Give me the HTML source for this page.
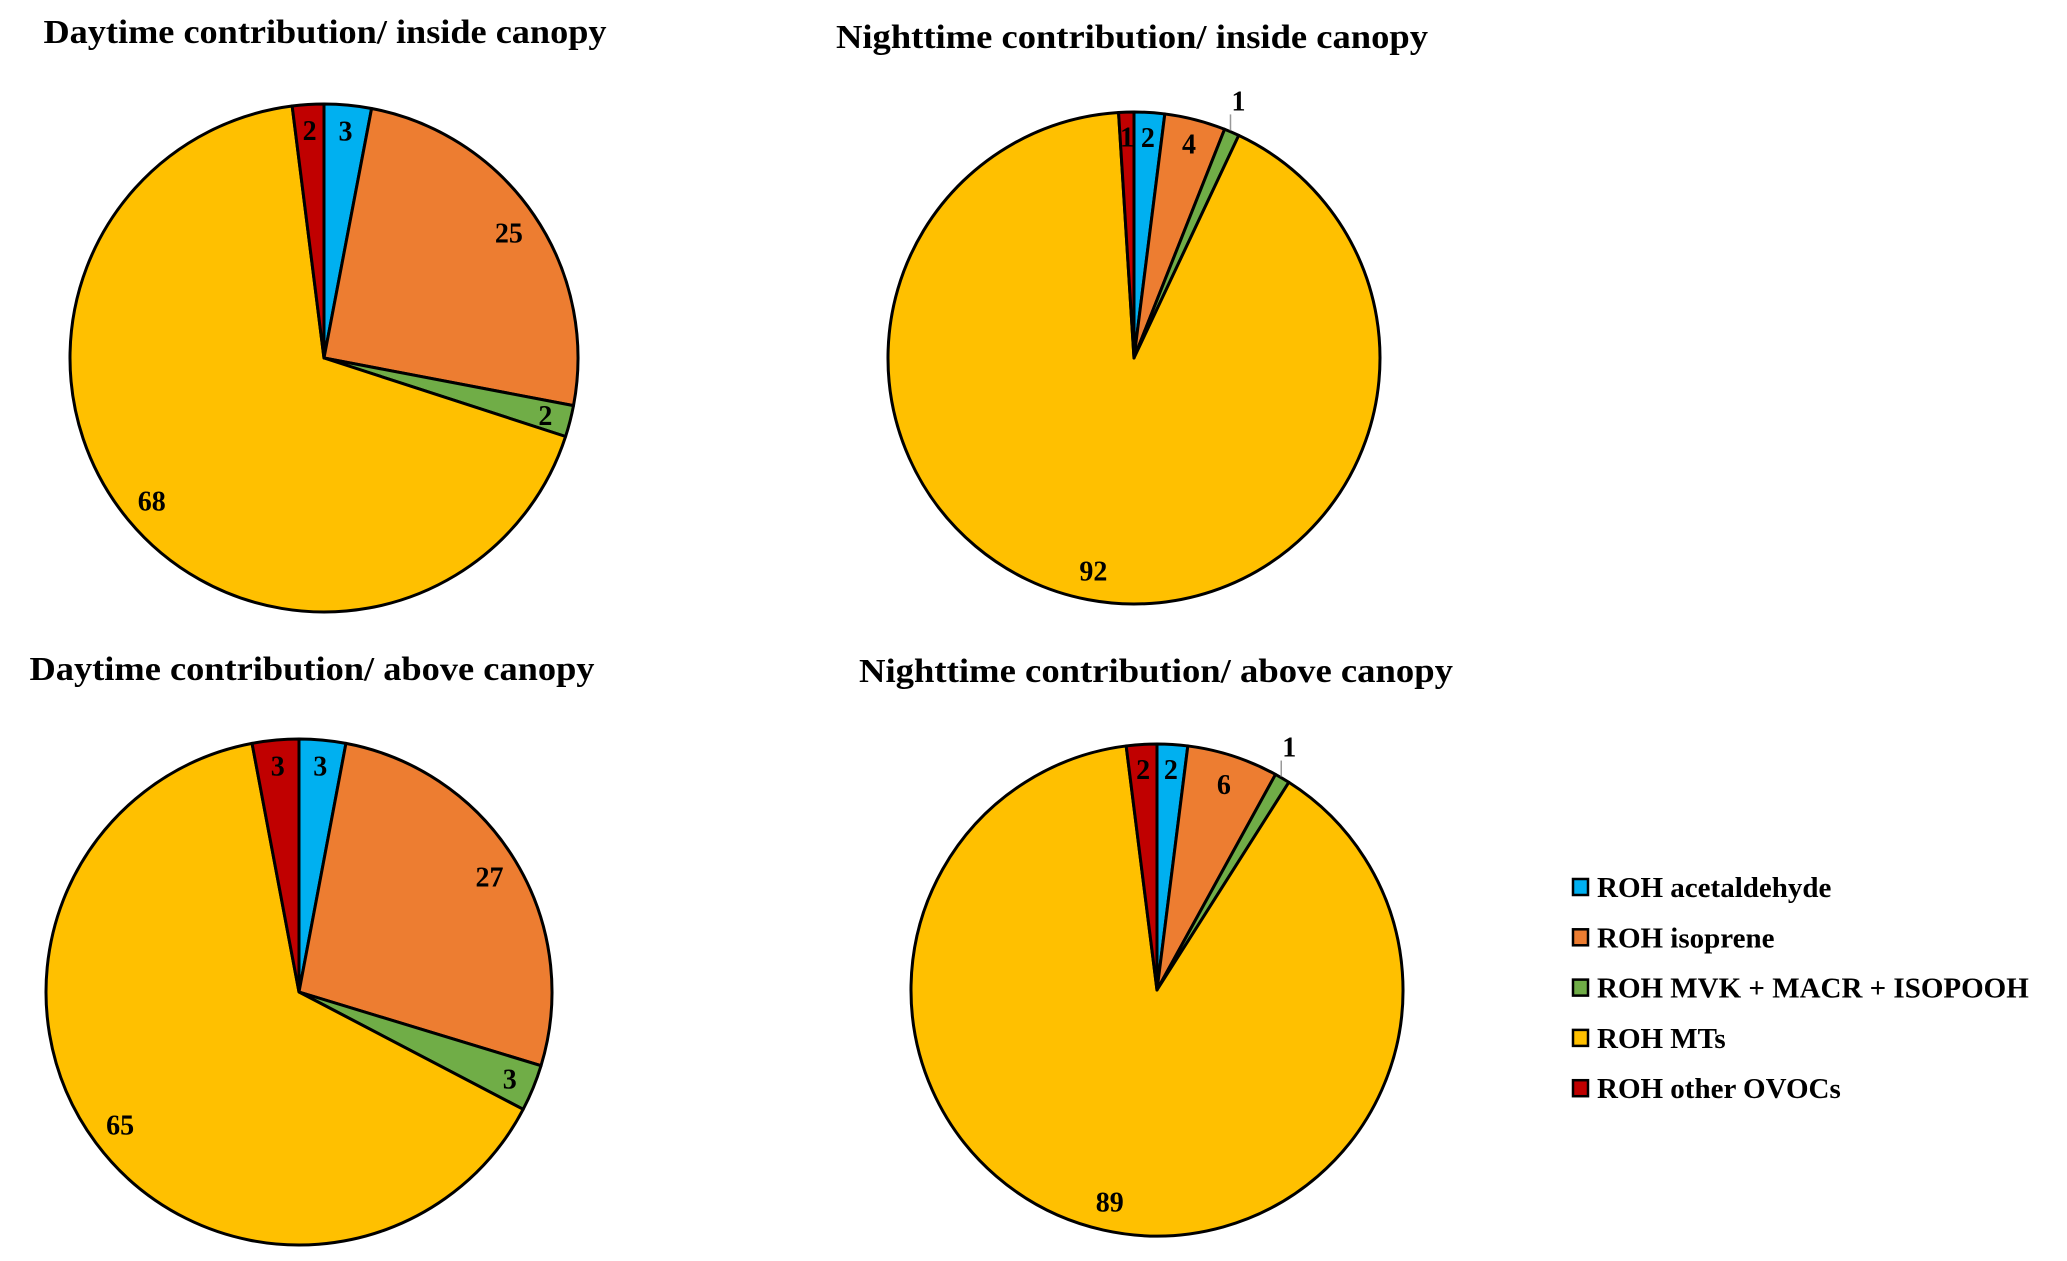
<!DOCTYPE html>
<html><head><meta charset="utf-8"><style>
html,body{margin:0;padding:0;background:#fff;}
svg{display:block;font-family:"Liberation Serif","Times New Roman",serif;font-weight:bold;}
</style></head><body>
<svg id="chart" width="2067" height="1261" viewBox="0 0 2067 1261" xmlns="http://www.w3.org/2000/svg">
<text x="325" y="43" font-size="34" text-anchor="middle" textLength="563" lengthAdjust="spacingAndGlyphs">Daytime contribution/ inside canopy</text>
<text x="1132" y="48" font-size="34" text-anchor="middle" textLength="592" lengthAdjust="spacingAndGlyphs">Nighttime contribution/ inside canopy</text>
<text x="312" y="680" font-size="34" text-anchor="middle" textLength="565" lengthAdjust="spacingAndGlyphs">Daytime contribution/ above canopy</text>
<text x="1156" y="682" font-size="34" text-anchor="middle" textLength="594" lengthAdjust="spacingAndGlyphs">Nighttime contribution/ above canopy</text>
<g id="pies"></g>
<g id="legend"></g>
</svg>
<script>
const categories = ["ROH acetaldehyde","ROH isoprene","ROH MVK + MACR + ISOPOOH","ROH MTs","ROH other OVOCs"];
const dayInside = [3,25,2,68,2];
const nightInside = [2,4,1,92,1];
const dayAbove = [3,27,3,65,3];
const nightAbove = [2,6,1,89,2];
const colors = ["#00b0f0","#ed7d31","#70ad47","#ffc000","#c00000"];
const NS = "http://www.w3.org/2000/svg";
const pies = document.getElementById('pies');
function mk(t, a, parent){const e=document.createElementNS(NS,t);for(const k in a)e.setAttribute(k,a[k]);(parent||pies).appendChild(e);return e;}
function pt(cx,cy,r,frac){const a=frac*2*Math.PI;return [cx+r*Math.sin(a), cy-r*Math.cos(a)];}
function drawPie(vals, cx, cy, r, name){
  const g = mk('g',{});
  
  
  const tot = vals.reduce((a,b)=>a+b,0);
  let acc = 0;
  vals.forEach((v,i)=>{
    const f0=acc/tot, f1=(acc+v)/tot; acc+=v;
    const p0=pt(cx,cy,r,f0), p1=pt(cx,cy,r,f1);
    const large = (f1-f0)>0.5?1:0;
    const p = mk('path',{d:`M${cx},${cy} L${p0[0]},${p0[1]} A${r},${r} 0 ${large} 1 ${p1[0]},${p1[1]} Z`, fill:colors[i], stroke:'#000','stroke-width':3,'stroke-linejoin':'round'}, g);
    
    
  });
  acc = 0;
  vals.forEach((v,i)=>{
    const fm=(acc+v/2)/tot; acc+=v;
    let t;
    if (v/tot < 0.015 && i===2){
      const e0=pt(cx,cy,r+2,fm);
      mk('line',{x1:e0[0]-2,y1:e0[1],x2:e0[0]-2,y2:e0[1]-16,stroke:'#999','stroke-width':1.5},g);
      t = mk('text',{x:e0[0]+6,y:e0[1]-20,'font-size':28,'text-anchor':'middle'},g);
    } else {
      const rr = (v/tot<0.05)? 0.9 : 0.88;
      const lp=pt(cx,cy,r*rr,fm);
      t = mk('text',{x:lp[0],y:lp[1]+10,'font-size':28,'text-anchor':'middle'},g);
    }
    t.textContent = v;
    
    
  });
}
drawPie(dayInside, 324, 358, 254, 'pie-day-inside');
drawPie(nightInside, 1134, 358, 246, 'pie-night-inside');
drawPie(dayAbove, 299, 992, 253, 'pie-day-above');
drawPie(nightAbove, 1157, 990, 246, 'pie-night-above');
const leg = document.getElementById('legend');
categories.forEach((c,i)=>{
  const y = 887 + i*50.3;
  const r = mk('rect',{x:1573,y:y-8,width:15,height:16,fill:colors[i],stroke:'#000','stroke-width':2.5},leg);
  
  
  const t = mk('text',{x:1597,y:y+10,'font-size':29},leg);
  t.textContent = c;
  
  
});
</script>
</body></html>
